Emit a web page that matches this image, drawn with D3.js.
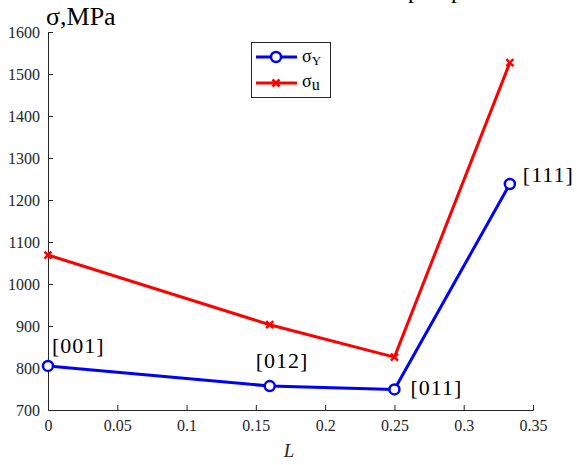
<!DOCTYPE html>
<html>
<head>
<meta charset="utf-8">
<script src="https://cdn.jsdelivr.net/npm/d3@7"></script>
<style>
  body { margin: 0; background: #fff; }
  svg { display: block; }
</style>
</head>
<body>
<script>
// data
var L = [0, 0.16, 0.25, 0.3333];
var sigmaY = [805, 757, 749, 1238];
var sigmaU = [1069, 903, 826, 1527];
var orient = ["[001]", "[012]", "[011]", "[111]"];
var xTicks = [0, 0.05, 0.1, 0.15, 0.2, 0.25, 0.3, 0.35];
var yTicks = [700, 800, 900, 1000, 1100, 1200, 1300, 1400, 1500, 1600];

var w = 577, h = 465;
var serif = "Liberation Serif";
var axisCol = "#262626";

var svg = d3.select("body").append("svg")
    .attr("width", w)
    .attr("height", h)
    .attr("font-family", serif);

var x = d3.scaleLinear().domain([0, 0.35]).range([48, 533]);
var y = d3.scaleLinear().domain([700, 1600]).range([410, 32]);

// axes, MATLAB style ticks pointing inward
var xAxis = d3.axisBottom(x).tickValues(xTicks).tickSize(-5).tickPadding(8)
    .tickFormat(function(d){ return d === 0 ? "0" : String(+d.toFixed(2)); });
var yAxis = d3.axisLeft(y).tickValues(yTicks).tickSize(-5).tickPadding(8)
    .tickFormat(d3.format("d"));

var gx = svg.append("g").attr("transform", "translate(0," + y(700) + ")").call(xAxis);
var gy = svg.append("g").attr("transform", "translate(" + x(0) + ",0)").call(yAxis);
[gx, gy].forEach(function(g){
  g.attr("font-family", serif).attr("font-size", 16);
  g.select(".domain").attr("stroke", axisCol).attr("stroke-width", 1);
  g.selectAll(".tick line").attr("stroke", axisCol);
  g.selectAll(".tick text").attr("fill", axisCol)
    .attr("font-family", serif).attr("font-size", 16);
});
gx.selectAll(".tick text").attr("dy", "0.8em");

// axis titles
svg.append("text").attr("x", 289).attr("y", 457)
  .attr("text-anchor", "middle")
  .attr("font-family", serif).attr("font-size", 19).attr("font-style", "italic")
  .attr("fill", axisCol).text("L");

svg.append("text").attr("x", 46).attr("y", 25)
  .attr("font-family", serif).attr("font-size", 26)
  .attr("fill", "#000").text("σ,MPa");

// clipped caption above the figure (only descenders visible)
svg.append("text").attr("x", 408).attr("y", -2)
  .attr("font-family", serif).attr("font-size", 24).text("p");
svg.append("text").attr("x", 451).attr("y", -2)
  .attr("font-family", serif).attr("font-size", 24).text("p");

var line = d3.line()
    .x(function(d){ return x(d[0]); })
    .y(function(d){ return y(d[1]); });

var ptsY = L.map(function(d, i){ return [d, sigmaY[i]]; });
var ptsU = L.map(function(d, i){ return [d, sigmaU[i]]; });

svg.append("path").datum(ptsU).attr("d", line)
  .attr("fill", "none").attr("stroke", "#ff0000").attr("stroke-width", 3)
  .attr("stroke-linejoin", "round");
svg.append("path").datum(ptsY).attr("d", line)
  .attr("fill", "none").attr("stroke", "#0000ff").attr("stroke-width", 3)
  .attr("stroke-linejoin", "round");

function cross(g, cx, cy) {
  var s = 3.5;
  g.append("path")
    .attr("d", "M" + (cx - s) + "," + (cy - s) + "L" + (cx + s) + "," + (cy + s) +
               "M" + (cx - s) + "," + (cy + s) + "L" + (cx + s) + "," + (cy - s))
    .attr("stroke", "#ff0000").attr("stroke-width", 2.5).attr("fill", "none");
}

var mk = svg.append("g");
ptsU.forEach(function(p){ cross(mk, x(p[0]), y(p[1])); });
mk.selectAll("circle").data(ptsY).enter().append("circle")
  .attr("cx", function(d){ return x(d[0]); })
  .attr("cy", function(d){ return y(d[1]); })
  .attr("r", 5)
  .attr("fill", "#fff").attr("stroke", "#0000ff").attr("stroke-width", 2.5);

// orientation labels
var labOff = [[4, -13], [-14, -18], [16, 6], [13, -2]];
svg.selectAll("text.orient").data(orient).enter().append("text")
  .attr("class", "orient")
  .attr("x", function(d, i){ return x(L[i]) + labOff[i][0]; })
  .attr("y", function(d, i){ return y(sigmaY[i]) + labOff[i][1]; })
  .attr("font-family", serif).attr("font-size", 22)
  .attr("letter-spacing", 1)
  .attr("fill", "#000").text(function(d){ return d; });

// legend
var lg = svg.append("g");
lg.append("rect").attr("x", 251.5).attr("y", 42.5).attr("width", 79).attr("height", 55)
  .attr("fill", "#fff").attr("stroke", axisCol).attr("stroke-width", 1);
lg.append("line").attr("x1", 256).attr("x2", 297).attr("y1", 57).attr("y2", 57)
  .attr("stroke", "#0000ff").attr("stroke-width", 3);
lg.append("circle").attr("cx", 276).attr("cy", 57).attr("r", 5)
  .attr("fill", "#fff").attr("stroke", "#0000ff").attr("stroke-width", 2.5);
lg.append("line").attr("x1", 256).attr("x2", 297).attr("y1", 83).attr("y2", 83)
  .attr("stroke", "#ff0000").attr("stroke-width", 3);
cross(lg, 276, 83);

var t1 = lg.append("text").attr("x", 302).attr("y", 62)
  .attr("font-family", serif).attr("font-size", 18).attr("fill", "#000");
t1.append("tspan").text("σ");
t1.append("tspan").attr("dy", 3).attr("font-size", 13).text("Y");
var t2 = lg.append("text").attr("x", 302).attr("y", 87)
  .attr("font-family", serif).attr("font-size", 18).attr("fill", "#000");
t2.append("tspan").text("σ");
t2.append("tspan").attr("dy", 3).attr("font-size", 16).text("u");
</script>
</body>
</html>
